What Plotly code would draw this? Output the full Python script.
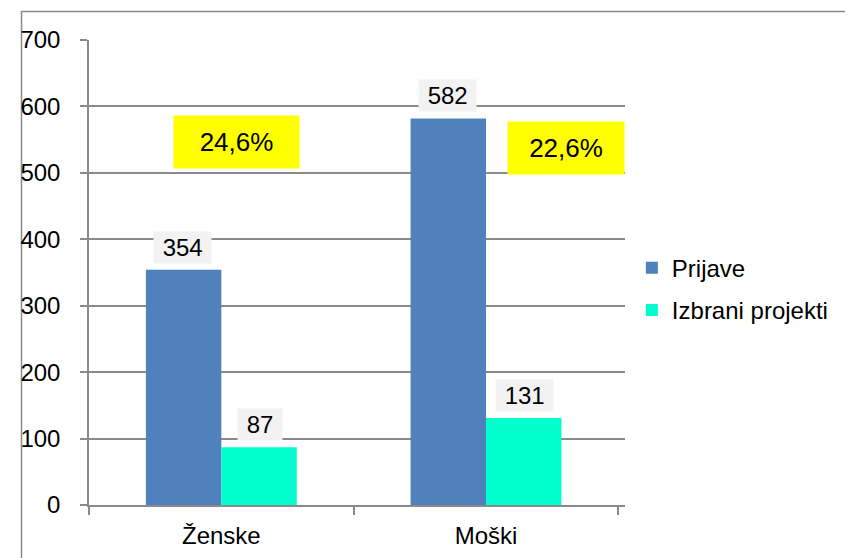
import plotly.graph_objects as go

categories = ["Ženske", "Moški"]
prijave = [354, 582]
izbrani = [87, 131]
percent_labels = ["24,6%", "22,6%"]
percent_y = [547, 538]
series_names = ["Prijave", "Izbrani projekti"]
y_ticks = [0, 100, 200, 300, 400, 500, 600, 700]

FONT = "Arial, Liberation Sans, sans-serif"
GRID = "#8a8a8a"
BLUE = "#4f81bd"
CYAN = "#00ffcc"

fig = go.Figure()
fig.add_trace(go.Bar(x=categories, y=prijave, name=series_names[0],
                     marker=dict(color=BLUE, line=dict(width=0)), legendgroup="a"))
fig.add_trace(go.Bar(x=categories, y=izbrani, name=series_names[1],
                     marker=dict(color=CYAN, line=dict(width=0)), legendgroup="b"))

annotations = []
for i, cat in enumerate(categories):
    for vals, shift in ((prijave, -38.5), (izbrani, 38.5)):
        annotations.append(dict(
            x=cat, y=vals[i], xref="x", yref="y", text=f" {vals[i]} ",
            showarrow=False, xshift=shift, yshift=6, yanchor="bottom",
            bgcolor="#f2f2f2", borderpad=2,
            font=dict(family=FONT, size=24, color="black")))

# percentage boxes
pct_shift = [15, 80]
pct_w = [121, 112]
for i, cat in enumerate(categories):
    annotations.append(dict(
        x=cat, y=percent_y[i], xref="x", yref="y", text=percent_labels[i],
        showarrow=False, xshift=pct_shift[i], yanchor="middle",
        bgcolor="#ffff00", borderpad=2, width=pct_w[i], height=48,
        font=dict(family=FONT, size=26, color="black")))

fig.update_layout(
    width=853, height=558,
    margin=dict(l=69, r=236, t=32, b=61),
    paper_bgcolor="white", plot_bgcolor="white",
    barmode="group", bargap=0.43, bargroupgap=0,
    font=dict(family=FONT, size=24, color="black"),
    showlegend=True,
    legend=dict(x=1.0128, xanchor="left", y=0.464, yanchor="middle",
                font=dict(family=FONT, size=24, color="black"),
                tracegroupgap=8, traceorder="grouped",
                bgcolor="rgba(0,0,0,0)"),
    annotations=annotations,
    shapes=[dict(type="rect", xref="paper", yref="paper",
                 x0=(8 - 77) / 548, x1=1.6, y0=-0.3, y1=(505 - 11) / 465.5,
                 line=dict(color=GRID, width=1.5), layer="below")],
)
fig.update_yaxes(range=[0, 700], tickvals=y_ticks, showgrid=True, gridcolor=GRID,
                 gridwidth=1.5, showline=True, linecolor=GRID, linewidth=1.5,
                 ticks="outside", ticklen=7, tickcolor=GRID, tickwidth=1.5,
                 ticklabelstandoff=15, zeroline=False,
                 tickfont=dict(family=FONT, size=24, color="black"))
fig.update_xaxes(showline=True, linecolor=GRID, linewidth=1.5, ticks="outside",
                 tickson="boundaries", ticklen=8, tickcolor=GRID, tickwidth=1.5,
                 showgrid=False, ticklabelstandoff=8,
                 tickfont=dict(family=FONT, size=24, color="black"))

fig.write_html("out.html")
